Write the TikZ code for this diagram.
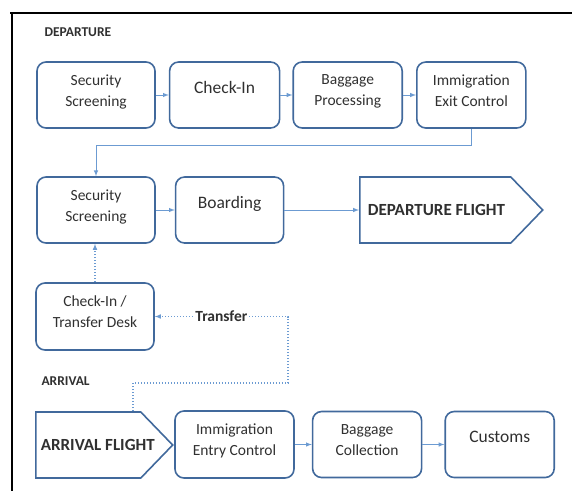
\documentclass[tikz,border=0pt]{standalone}
\usepackage{fontspec}
\setmainfont{Carlito}
\usetikzlibrary{arrows,shapes,positioning}
\definecolor{boxblue}{HTML}{41699C}
\definecolor{lineblue}{HTML}{6C9BD2}
\definecolor{inkgray}{HTML}{303030}
\tikzset{
    basic/.style    = {draw=boxblue, line width=1.6pt, text=inkgray, align=center},
    proc/.style     = {basic, rectangle, rounded corners=9pt, minimum height=66pt,
                       text depth=9pt, font=\fontsize{15.5}{21}\selectfont},
    proc big/.style = {proc, text depth=16pt, font=\fontsize{17.5}{20}\selectfont},
    flight/.style   = {basic, signal, signal to=east, signal pointer angle=92,
                       minimum height=66pt, font=\bfseries\fontsize{17}{20}\selectfont},
    section/.style  = {text=inkgray, anchor=west, font=\bfseries\fontsize{13.5}{14}\selectfont},
    link/.style     = {->, >=latex, draw=lineblue, line width=1pt},
    transfer link/.style = {link, dotted, line width=1.1pt}
}
\begin{document}
\begin{tikzpicture}[x=1pt, y=-1pt]
    \useasboundingbox (0,0) rectangle (572,491);
    % frame
    \draw[line width=1.3pt] (10,13) -- (572,13);
    \draw[line width=1.3pt] (12,13) -- (12,491);

    % departure
    \node[section] (deplabel) at (41,32) {DEPARTURE};
    \node[proc, minimum width=118pt] (scr1) at (96,95) {Security\\Screening};
    \node[proc big, minimum width=110pt, right=13pt of scr1] (chk) {Check-In};
    \node[proc, minimum width=109pt, right=12pt of chk] (bagp) {Baggage\\Processing};
    \node[proc, minimum width=109pt, right=13pt of bagp] (exit) {Immigration\\Exit Control};

    \node[proc, minimum width=118pt] (scr2) at (96,210) {Security\\Screening};
    \node[proc big, minimum width=108pt, right=19pt of scr2] (brd) {Boarding};
    \node[flight, anchor=west, inner xsep=8pt] (depf) at (359,210) {\makebox[135pt][l]{DEPARTURE FLIGHT}};

    \node[proc, minimum width=118pt, minimum height=67pt] (desk) at (95,316.5) {Check-In /\\Transfer Desk};

    % arrival
    \node[section] (arrlabel) at (38,381) {ARRIVAL};
    \node[flight, anchor=west, inner xsep=5pt] (arrf) at (35,445) {\makebox[95pt][l]{ARRIVAL FLIGHT}};
    \node[proc, minimum width=119pt, minimum height=67pt] (entry) at (234.5,444.5) {Immigration\\Entry Control};
    \node[proc, minimum width=109pt, right=17pt of entry] (bagc) {Baggage\\Collection};
    \node[proc big, minimum width=109pt, right=22pt of bagc] (cust) {Customs};

    \coordinate (drop) at (133,383);
    \coordinate (bend) at (288,383);

    \draw[link] (scr1) -- (chk);
    \draw[link] (chk) -- (bagp);
    \draw[link] (bagp) -- (exit);
    \draw[link] (exit.south) -- ++(0,17) -| (scr2.north);
    \draw[link] (scr2) -- (brd);
    \draw[link] (brd) -- (depf.west);
    \draw[transfer link] (desk.north) -- (desk.north |- scr2.south);
    \draw[transfer link] (drop |- arrf.north) -- (drop) -- (bend) |- (desk.east)
        node[pos=0.75, fill=white, text=inkgray, inner sep=2pt,
             font=\bfseries\fontsize{15.5}{16}\selectfont] {Transfer};
    \draw[link] (entry) -- (bagc);
    \draw[link] (bagc) -- (cust);
\end{tikzpicture}
\end{document}
